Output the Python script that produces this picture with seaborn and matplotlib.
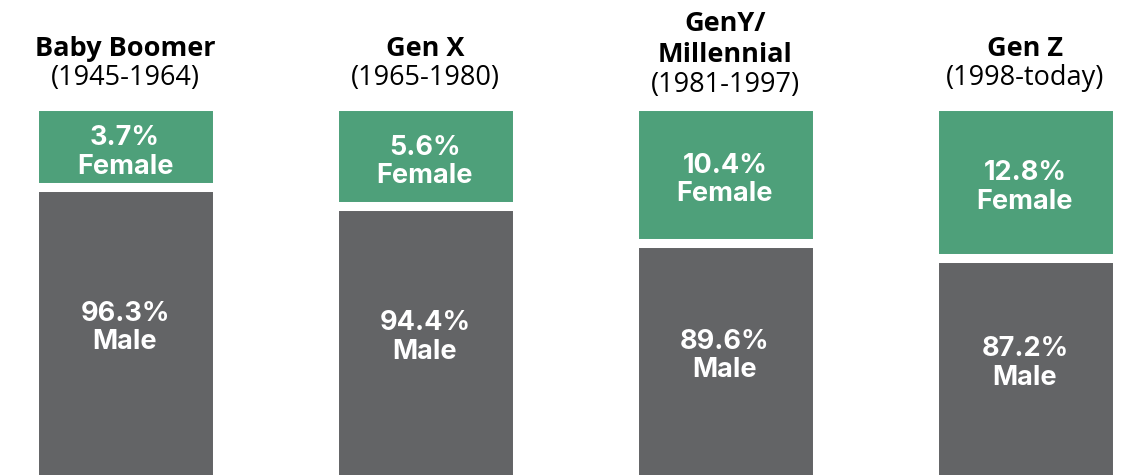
import numpy as np
import matplotlib
matplotlib.use("Agg")
import matplotlib.pyplot as plt
import matplotlib.transforms as mtransforms
import seaborn as sns

# Gender split by generation (%)
generations = ["Baby Boomer", "Gen X", "GenY/\nMillennial", "Gen Z"]
years = ["(1945-1964)", "(1965-1980)", "(1981-1997)", "(1998-today)"]
female = [3.7, 5.6, 10.4, 12.8]
male = [96.3, 94.4, 89.6, 87.2]

GREEN = "#4ea07a"
GRAY = "#636466"
W, H = 1130, 475

sns.set_theme(style="white")
plt.rcParams["font.family"] = ["Open Sans", "DejaVu Sans"]

fig = plt.figure(figsize=(W / 100, H / 100), dpi=100)
ax_top_px = 105.5
ax = fig.add_axes([0, 0, 1, 1 - ax_top_px / H])


# infographic style: the female share is stretched so the labels fit
def fwd(y):
    return -np.sqrt(np.clip(100 - np.asarray(y, dtype=float), 0, None))


def inv(v):
    return 100 - np.minimum(np.asarray(v, dtype=float), 0) ** 2


totals = [m + f for m, f in zip(male, female)]
sns.barplot(x=generations, y=totals, color=GREEN, saturation=1, width=0.61,
            edgecolor="white", linewidth=6.5, ax=ax)
sns.barplot(x=generations, y=male, color=GRAY, saturation=1, width=0.61,
            edgecolor="white", linewidth=6.5, ax=ax)

ax.set_yscale("function", functions=(fwd, inv))
ybot = 24.6
ax.set_ylim(ybot, 100)
ax.set_xlim(-125 / 300, 1005 / 300)
ax.axis("off")


def frac(y):
    return (fwd(y) - fwd(ybot)) / (fwd(100) - fwd(ybot))


ax_h = (1 - ax_top_px / H) * H
trans = mtransforms.blended_transform_factory(ax.transData, ax.transAxes)
label_font = ["Inter", "DejaVu Sans"]
lsz = 19.5
tsz = 19.5

for i in range(len(generations)):
    b = frac(male[i])
    centers = [(b + 1) / 2 - 3 / ax_h, b / 2 + 6 / ax_h]
    texts = [(f"{female[i]}%", "Female"), (f"{male[i]}%", "Male")]
    for c, (l1, l2) in zip(centers, texts):
        for txt, off in [(l1, 4.25), (l2, -24.25)]:
            ax.annotate(txt, xy=(i, c), xycoords=trans, xytext=(0, off),
                        textcoords="offset pixels", ha="center", va="baseline",
                        color="white", fontsize=lsz, fontweight="bold",
                        family=label_font)

# titles above the bars
ttrans = mtransforms.blended_transform_factory(ax.transData, fig.transFigure)
for i, (name, yr) in enumerate(zip(generations, years)):
    lines = name.split("\n")
    base = 56 - 25 * (len(lines) - 1)
    for j, ln in enumerate(lines):
        ax.text(i, 1 - (base + 31 * j) / H, ln, transform=ttrans, ha="center",
                va="baseline", fontsize=tsz, fontweight="bold", color="black",
                clip_on=False)
    last = base + 31 * (len(lines) - 1)
    ax.text(i, 1 - (last + 29.5) / H, yr, transform=ttrans, ha="center",
            va="baseline", fontsize=tsz, color="black", clip_on=False)

fig.savefig("out.png", dpi=100)
